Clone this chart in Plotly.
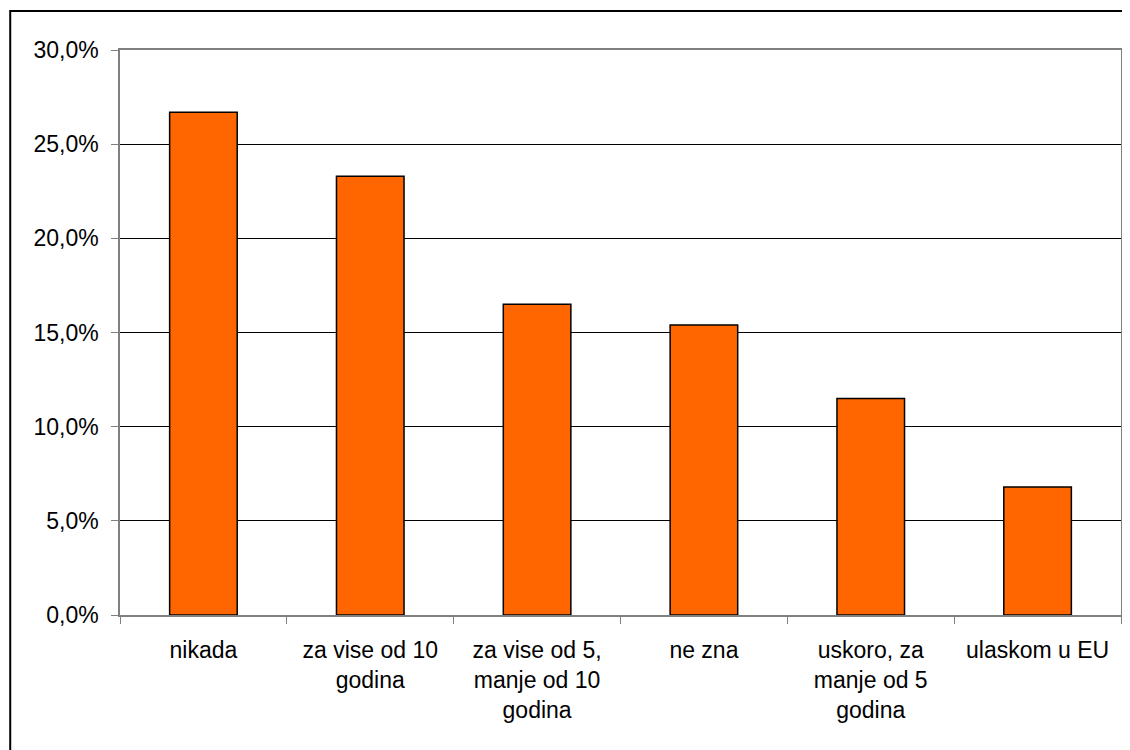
import plotly.graph_objects as go

categories = ["nikada", "za vise od 10<br>godina", "za vise od 5,<br>manje od 10<br>godina",
              "ne zna", "uskoro, za<br>manje od 5<br>godina", "ulaskom u EU"]
values = [26.7, 23.3, 16.5, 15.4, 11.5, 6.8]
tick_vals = [0, 5, 10, 15, 20, 25, 30]
tick_text = ["0,0%", "5,0%", "10,0%", "15,0%", "20,0%", "25,0%", "30,0%"]

fig = go.Figure()
fig.add_trace(go.Bar(
    x=categories, y=values,
    marker=dict(color="#FF6600", line=dict(color="#000000", width=1.5)),
    hoverinfo="skip",
))

# page body has an 8px margin; compensate so plot area lands at 120..1123 x 50..615
W, H = 1122, 742
ml, mr, mt, mb = 112, 7, 42, 135
pw, ph = W - ml - mr, H - mt - mb

fig.update_layout(
    width=W, height=H,
    margin=dict(l=ml, r=mr, t=mt, b=mb),
    paper_bgcolor="white", plot_bgcolor="white",
    bargap=0.595,
    showlegend=False,
    font=dict(family="Liberation Sans, Arial, sans-serif", size=22, color="#000000"),
    shapes=[dict(
        type="rect", xref="paper", yref="paper", layer="below",
        x0=(2 - ml) / pw, x1=(W + 20 - ml) / pw,
        y0=-(mb + 20) / ph, y1=(H - 3 - mb) / ph,
        line=dict(color="#000000", width=2), fillcolor="rgba(0,0,0,0)",
    )],
)
fig.update_xaxes(
    showline=True, linecolor="#808080", linewidth=1.5, mirror=True,
    ticks="outside", tickson="boundaries", ticklen=7, tickcolor="#808080",
    showgrid=False, ticklabelstandoff=14,
    tickfont=dict(size=23),
)
fig.update_yaxes(
    range=[0, 30], tickvals=tick_vals, ticktext=tick_text,
    showline=True, linecolor="#808080", linewidth=1.5, mirror=True,
    ticks="outside", ticklen=7, tickcolor="#808080",
    showgrid=True, gridcolor="#000000", gridwidth=1,
    ticklabelstandoff=8, zeroline=False,
    tickfont=dict(size=23),
)

fig.write_html("out.html")
